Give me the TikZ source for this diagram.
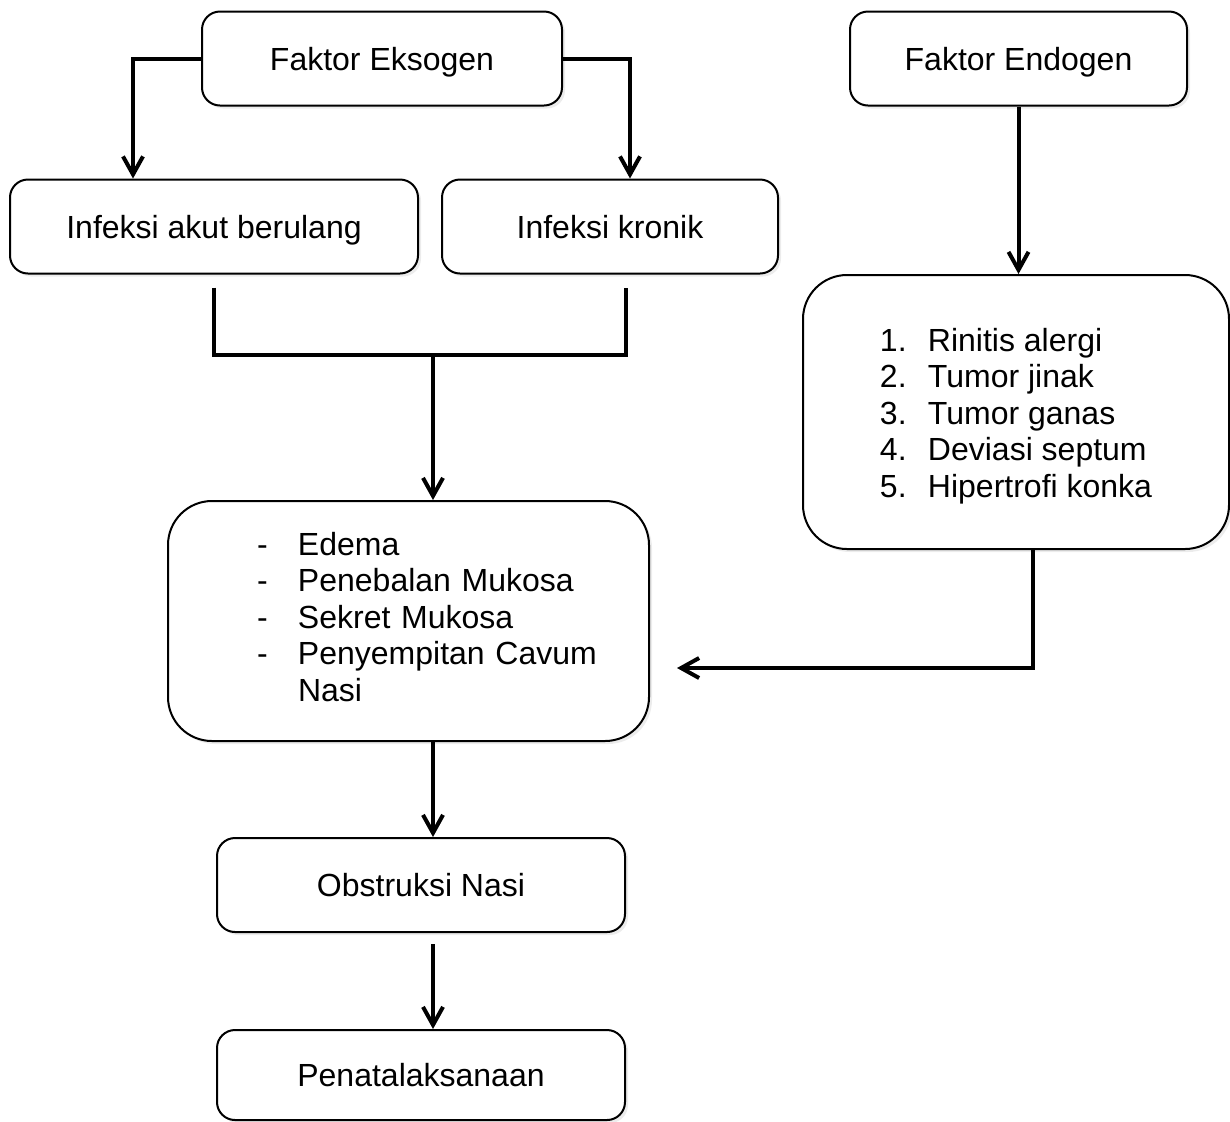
\documentclass[tikz,border=0pt]{standalone}
\usepackage{fontspec}
\setmainfont{Liberation Sans}
\usetikzlibrary{arrows.meta, shadows}

\begin{document}
\begin{tikzpicture}[x=0.5pt, y=-0.5pt, >={Straight Barb[length=9pt,width=10pt]}]

% Stili dei blocchi
\tikzstyle{box} = [rectangle, draw, line width=1pt, fill=white,
    text centered, rounded corners=9pt,
    font=\fontsize{16}{18.25}\selectfont,
    drop shadow={opacity=0.15, shadow xshift=1.5pt, shadow yshift=-1.5pt}]
\tikzstyle{block} = [box, minimum height=47pt, text height=11.5pt, text depth=0pt]
\tikzstyle{bigblock} = [box, rounded corners=22pt]
\tikzstyle{line} = [line width=2pt]
\tikzstyle{arrow} = [line width=2pt, ->]

\useasboundingbox (0,0) rectangle (1230,1121);

% Nodi
\node (eksogen) [block, minimum width=180pt] at (382,58.5) {Faktor Eksogen};
\node (endogen) [block, minimum width=168.5pt] at (1018.5,58.5) {Faktor Endogen};
\node (akut) [block, minimum width=204pt] at (214,226.5) {Infeksi akut berulang};
\node (kronik) [block, minimum width=168pt] at (610,226.5) {Infeksi kronik};
\node (rinitis) [bigblock, minimum width=213pt, minimum height=137pt] at (1016,412)
    {\raisebox{-2.5pt}[\height][\depth]{\begin{tabular}{@{}p{24pt}@{}l@{}}
     1. & Rinitis alergi\\
     2. & Tumor jinak\\
     3. & Tumor ganas\\
     4. & Deviasi septum\\
     5. & Hipertrofi konka
     \end{tabular}}};
\node (edema) [bigblock, minimum width=240.5pt, minimum height=120pt,
    text width=151.5pt, inner xsep=44.5pt, align=left] at (408.5,621)
    {\begin{tabular}{@{}p{20.5pt}@{}l@{}}
     - & Edema\\
     - & Penebalan Mukosa\\
     - & Sekret Mukosa\\
     - & Penyempitan Cavum\\
       & Nasi
     \end{tabular}};
\node (obstruksi) [block, minimum width=204pt] at (421,885) {Obstruksi Nasi};
\node (tata) [block, minimum width=204pt, minimum height=45pt] at (421,1075) {Penatalaksanaan};

\coordinate (join) at (433,355);

% Frecce
\draw [arrow] (eksogen.west) -| ([xshift=-40.5pt]akut.north);
\draw [arrow] (eksogen.east) -| ([xshift=10pt]kronik.north);
\draw [arrow] (endogen.south) -- (rinitis.north -| endogen.south);
\draw [line] ([yshift=-6.5pt]akut.south) |- (join) -| ([xshift=8pt,yshift=-6.5pt]kronik.south);
\draw [arrow] (join) -- (join |- edema.north);
\draw [arrow] ([xshift=8.5pt]rinitis.south) |- ([xshift=13.5pt,yshift=-23.5pt]edema.east);
\draw [arrow] (join |- edema.south) -- (join |- obstruksi.north);
\draw [arrow] ([yshift=-5.5pt]join |- obstruksi.south) -- (join |- tata.north);

\end{tikzpicture}
\end{document}
